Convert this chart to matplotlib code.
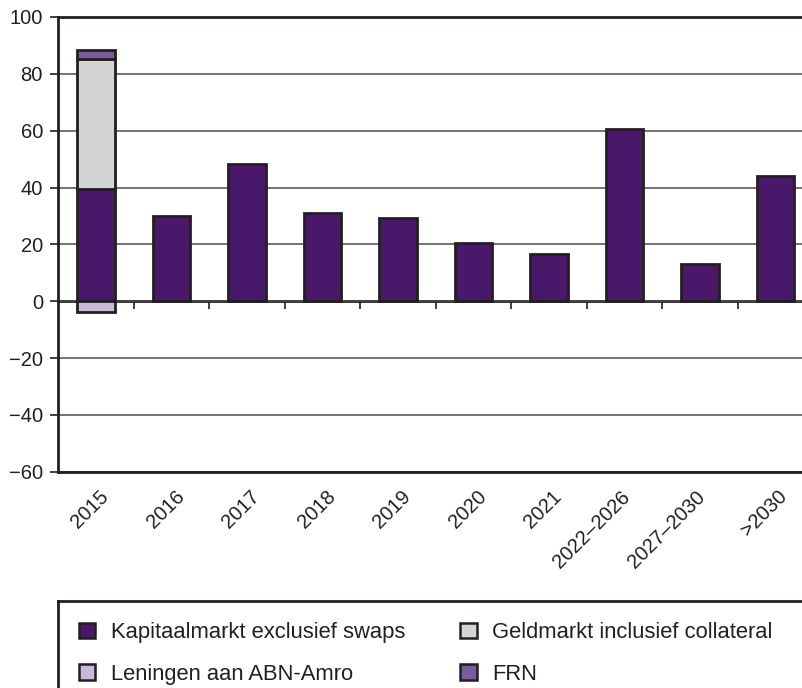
import matplotlib
matplotlib.use("Agg")
import matplotlib.pyplot as plt
from matplotlib.patches import Patch
from matplotlib.transforms import ScaledTranslation

plt.rcParams['font.family'] = ['Liberation Sans', 'DejaVu Sans']

categories = ['2015', '2016', '2017', '2018', '2019', '2020', '2021',
              '2022–2026', '2027–2030', '>2030']
kapitaalmarkt = [39.5, 30.0, 48.2, 30.9, 29.3, 20.4, 16.5, 60.6, 13.2, 44.0]
geldmarkt = [45.8, 0, 0, 0, 0, 0, 0, 0, 0, 0]
frn = [3.2, 0, 0, 0, 0, 0, 0, 0, 0, 0]
leningen_abn = [-3.8, 0, 0, 0, 0, 0, 0, 0, 0, 0]

labels = ['Kapitaalmarkt exclusief swaps', 'Geldmarkt inclusief collateral',
          'Leningen aan ABN-Amro', 'FRN']
colors = ['#4a186b', '#d3d4d6', '#c6badb', '#7b5a9e']
edge = '#231f20'

fig = plt.figure(figsize=(8.03, 6.88), dpi=100)
ax = fig.add_axes([58.25 / 803, 0.3144, 755 / 803, 0.6609])

x = list(range(len(categories)))
w = 0.5
bar_kw = dict(width=w, edgecolor=edge, linewidth=2, zorder=3)
ax.bar(x, kapitaalmarkt, color=colors[0], **bar_kw)
geld_bottom = kapitaalmarkt
ax.bar(x[:1], geldmarkt[:1], bottom=geld_bottom[:1], color=colors[1], **bar_kw)
frn_bottom = [k + g for k, g in zip(kapitaalmarkt, geldmarkt)]
ax.bar(x[:1], frn[:1], bottom=frn_bottom[:1], color=colors[3], **bar_kw)
ax.bar(x[:1], leningen_abn[:1], color=colors[2], **bar_kw)

ax.set_xlim(-0.5, len(categories) - 0.5)
ax.set_ylim(-60, 100)
ax.set_yticks(range(-60, 101, 20))
ax.yaxis.grid(True, color='#4d4d4d', linewidth=1.1)
ax.set_axisbelow(True)

for side in ['left', 'top', 'bottom']:
    ax.spines[side].set_linewidth(2)
    ax.spines[side].set_color(edge)
ax.spines['right'].set_visible(False)

ax.tick_params(axis='y', direction='out', length=6, width=1.2,
               labelsize=14.5, pad=5, color=edge, labelcolor=edge)
ax.set_xticks(x)
ax.set_xticklabels(categories, rotation=45, ha='right', va='top',
                   rotation_mode='anchor', fontsize=14.5, color=edge)
ax.tick_params(axis='x', length=0, pad=11)
# longer labels sit a bit more to the left in the original
for lab, name in zip(ax.get_xticklabels(), categories):
    dx = (3 - (len(name) - 4) * 1.5) / 100
    lab.set_transform(lab.get_transform() +
                      ScaledTranslation(dx, 0, fig.dpi_scale_trans))

# zero line with small ticks between the categories
zero = ax.secondary_xaxis(60 / 160)
zero.spines['bottom'].set_linewidth(2)
zero.spines['bottom'].set_color(edge)
zero.set_xticks([i + 0.5 for i in x[:-1]])
zero.tick_params(axis='x', direction='out', length=6, width=1.2,
                 labelbottom=False, color=edge)

# legend box
lax = fig.add_axes([58 / 803, -0.1, 1.0, 0.1 + (688 - 601) / 688])
lax.set_xticks([])
lax.set_yticks([])
for s in lax.spines.values():
    s.set_linewidth(2)
    s.set_color(edge)

handles = [Patch(facecolor=c, edgecolor=edge, linewidth=1.8) for c in colors]
order = [0, 2, 1, 3]
leg = fig.legend([handles[i] for i in order], [labels[i] for i in order],
                 loc='upper left', bbox_to_anchor=(79 / 803, 1 - 622 / 688),
                 ncol=2, frameon=False, fontsize=15.8, borderpad=0,
                 borderaxespad=0, handlelength=0.75, handleheight=0.7,
                 handletextpad=0.7, labelspacing=0.95, columnspacing=2.5)
for t in leg.get_texts():
    t.set_color(edge)

fig.savefig('out.png', dpi=100)
